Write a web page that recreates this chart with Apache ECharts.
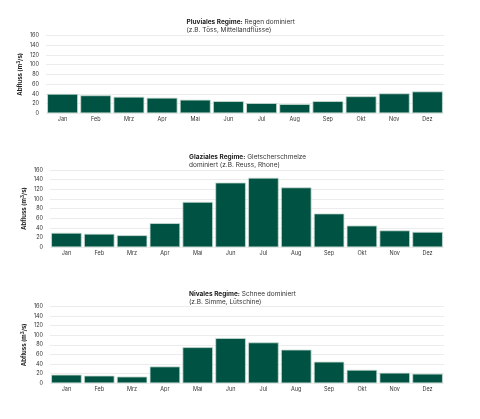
<!DOCTYPE html>
<html>
<head>
<meta charset="utf-8">
<script src="https://cdn.jsdelivr.net/npm/echarts@6/dist/echarts.min.js"></script>
<style>
  html, body { margin: 0; padding: 0; background: #fff; }
  #chart { width: 480px; height: 419px; }
</style>
</head>
<body>
<div id="chart"></div>
<script>
// Monate
const months = ['Jan', 'Feb', 'Mrz', 'Apr', 'Mai', 'Jun', 'Jul', 'Aug', 'Sep', 'Okt', 'Nov', 'Dez']

// Abfluss (m3/s) pro Regime
const pluvial = [40, 37, 34, 32, 28, 25, 21, 19, 25, 35, 41, 45]
const glazial = [30, 28, 25, 50, 94, 134, 144, 124, 70, 45, 35, 32]
const nival = [18, 16, 14, 35, 75, 94, 85, 70, 45, 28, 22, 20]

const titles = [
  { bold: 'Pluviales Regime:', rest: ' Regen dominiert', line2: '(z.B. Töss, Mittellandflüsse)' },
  { bold: 'Glaziales Regime:', rest: ' Gletscherschmelze', line2: 'dominiert (z.B. Reuss, Rhone)' },
  { bold: 'Nivales Regime:', rest: ' Schnee dominiert', line2: '(z.B. Simme, Lütschine)' }
]
const allData = [pluvial, glazial, nival]

// Layout der drei Diagramme
const grids = [
  { left: 46, top: 35.5, height: 77.8 },
  { left: 50, top: 170, height: 77.3 },
  { left: 50, top: 306.3, height: 77 }
]
const titlePos = [
  { left: 186.5, top: 18.5 },
  { left: 189, top: 153.5 },
  { left: 189, top: 290 }
]

const font = 'Inter, "Open Sans", sans-serif'
const green = '#005243'

const mChart = echarts.init(document.getElementById('chart'), null, { renderer: 'canvas' })

const option = {
  animation: false,
  backgroundColor: '#fff',
  title: titles.map((t, i) => ({
    left: titlePos[i].left,
    top: titlePos[i].top,
    padding: 0,
    text: '{b|' + t.bold + '}{n|' + t.rest + '}\n{n|' + t.line2 + '}',
    textStyle: {
      fontWeight: 'normal',
      rich: {
        b: { fontFamily: font, fontSize: 6.5, fontWeight: 'bold', color: '#222', lineHeight: 7.8 },
        n: { fontFamily: font, fontSize: 6.5, fontWeight: 'normal', color: '#333', lineHeight: 7.8 }
      }
    }
  })),
  grid: grids.map(g => ({ left: g.left, right: 36, top: g.top, height: g.height })),
  xAxis: grids.map((g, i) => ({
    type: 'category',
    gridIndex: i,
    data: months,
    axisLine: { show: false },
    axisTick: { show: false },
    axisLabel: { fontFamily: font, fontSize: 5.5, color: '#333', margin: 3 }
  })),
  yAxis: grids.map((g, i) => ({
    type: 'value',
    gridIndex: i,
    min: 0,
    max: 160,
    interval: 20,
    name: 'Abfluss (m{sup|3}/s)',
    nameLocation: 'middle',
    nameGap: 22,
    nameMoveOverlap: false,
    nameRotate: 90,
    nameTextStyle: {
      fontFamily: font,
      fontSize: 6,
      fontWeight: 'bold',
      color: '#222',
      rich: { sup: { fontFamily: font, fontSize: 4.5, fontWeight: 'bold', color: '#222', padding: [0, 0, 3, 0] } }
    },
    axisLine: { show: false },
    axisTick: { show: false },
    axisLabel: { fontFamily: font, fontSize: 5.5, color: '#333', margin: 7 },
    splitLine: { lineStyle: { color: '#ececec', width: 1 } }
  })),
  series: allData.map((d, i) => ({
    type: 'bar',
    xAxisIndex: i,
    yAxisIndex: i,
    data: d,
    barCategoryGap: '7%',
    itemStyle: { color: green, borderColor: '#c9ddd3', borderWidth: 0.8 }
  }))
}

mChart.setOption(option)
</script>
</body>
</html>
